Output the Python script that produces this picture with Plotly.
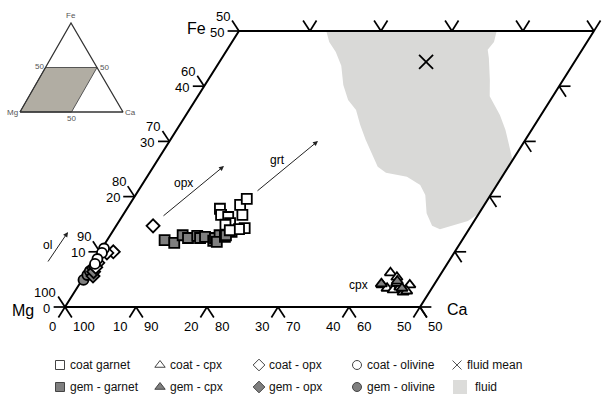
import plotly.graph_objects as go

# ---------------- data (ternary %: Ca, Fe; Mg = 100 - Ca - Fe) ----------------
coat_garnet_ca = [13.1, 13.8, 15.0, 15.8, 15.6, 16.8, 16.0, 18.3, 17.6, 15.3, 16.4]
coat_garnet_fe = [17.8, 16.7, 16.3, 15.2, 18.5, 16.7, 19.6, 14.3, 14.1, 14.9, 13.9]
gem_garnet_ca = [8.1, 9.7, 10.2, 11.2, 12.3, 12.9, 13.5, 15.0, 15.0, 15.4, 15.6, 16.3, 16.8, 16.3]
gem_garnet_fe = [12.1, 11.6, 13.0, 12.5, 12.9, 12.5, 12.7, 12.0, 12.5, 13.0, 11.8, 12.7, 13.6, 13.0]
coat_cpx_ca = [42.8, 44.1, 42.7, 43.7, 44.7, 45.4, 46.3, 46.6, 44.6, 46.7]
coat_cpx_fe = [6.2, 5.4, 4.0, 3.4, 3.1, 3.6, 2.7, 4.0, 4.3, 2.9]
gem_cpx_ca = [42.5, 44.5, 45.8]
gem_cpx_fe = [4.2, 4.7, 3.4]
coat_opx_ca = [1.9, 1.1, 0.7, 0.8, 5.2]
coat_opx_fe = [10.0, 9.8, 8.0, 7.2, 14.7]
gem_opx_ca = [1.2, 0.5, 0.9]
gem_opx_fe = [5.6, 7.1, 6.4]
coat_ol_ca = [0.3, 0.4, 0.3, 0.4]
coat_ol_fe = [10.6, 9.8, 8.7, 7.8]
gem_ol_ca = [0.2, 0.3, 0.3]
gem_ol_fe = [4.9, 5.8, 6.5]
fluid_mean_ca = [29.1]
fluid_mean_fe = [44.4]
fluid_ca = [12.3, 13.7, 15.5, 17.5, 19.5, 21.5, 23.5, 25.4, 27.5, 29.8, 31.6, 33.3, 36.6,
            39.2, 40.8, 42.6, 44.5, 45.9, 49.1, 50.0, 50.0, 48.8, 46.3, 44.2, 42.7, 41.1,
            39.7, 37.6, 36.7, 36.9, 36.3]
fluid_fe = [50.0, 48.0, 46.2, 43.7, 40.2, 37.5, 35.7, 33.0, 30.3, 27.5, 25.4, 24.3, 23.6,
            22.1, 20.3, 17.0, 14.7, 14.1, 15.6, 17.0, 26.6, 28.4, 32.1, 34.8, 36.4, 38.2,
            41.1, 45.1, 46.6, 48.0, 50.0]
tick_values = [0, 10, 20, 30, 40, 50]

# ---------------- projection (ternary -> sheared cartesian) ----------------
K = 0.49
def proj(ca, fe):
    return [c + K * f for c, f in zip(ca, fe)], list(fe)

FONT = "Arial, Liberation Sans, sans-serif"
GRAY = "#7f7f7f"
fig = go.Figure()

# fluid field
fx, fy = proj(fluid_ca, fluid_fe)
fig.add_trace(go.Scatter(x=fx, y=fy, fill="toself", fillcolor="#d9d9d7", mode="lines",
                         line=dict(width=0, color="#d9d9d7"), hoverinfo="skip"))

# frame
ex, ey = proj([0, 50, 50, 0, 0], [0, 0, 50, 50, 0])
fig.add_trace(go.Scatter(x=ex, y=ey, mode="lines", line=dict(color="black", width=2),
                         hoverinfo="skip"))

# ticks
DH, DD = 1.6, 1.9
segs = []
for t in tick_values:
    segs += [((0, t), (-DH, t)), ((0, t), (-DD, t + DD))]          # left edge
    segs += [((t, 0), (t, -DD)), ((t, 0), (t + DD, -DD))]          # bottom edge
    if t > 0:
        segs += [((t, 50), (t - DD, 50 + DD)), ((t, 50), (t, 50 + DD))]  # top edge
    if t < 50:
        segs += [((50, t), (50 + DH, t)), ((50, t), (50 + DD, t - DD))]  # right edge
tx, ty = [], []
for (a, b) in segs:
    xs, ys = proj([a[0], b[0]], [a[1], b[1]])
    tx += xs + [None]
    ty += ys + [None]
fig.add_trace(go.Scatter(x=tx, y=ty, mode="lines", line=dict(color="black", width=1.7),
                         hoverinfo="skip"))

# tick labels
ann = []
def lab(ca, fe, text, xanchor, xs, ys):
    x, y = proj([ca], [fe])
    ann.append(dict(x=x[0], y=y[0], xref="x", yref="y", text=text, showarrow=False,
                    xanchor=xanchor, yanchor="middle", xshift=xs, yshift=ys,
                    font=dict(family=FONT, size=13, color="black")))
for t in tick_values:
    lab(0, t, str(t), "right", -13, -1)
    lab(0, t, str(100 - t), "right", -7, 15)
    lab(t, 0, str(t), "right", -7, -19)
    lab(t, 0, str(100 - t), "left", 6, -19)

# markers
def pts(ca, fe, symbol, fill, size):
    x, y = proj(ca, fe)
    fig.add_trace(go.Scatter(x=x, y=y, mode="markers", hoverinfo="skip",
                             marker=dict(symbol=symbol, size=size, color=fill,
                                         line=dict(color="black", width=1.8))))
pts(gem_garnet_ca, gem_garnet_fe, "square", GRAY, 10)
pts(coat_garnet_ca, coat_garnet_fe, "square", "white", 10)
pts(gem_ol_ca, gem_ol_fe, "circle", GRAY, 10)
pts(gem_opx_ca, gem_opx_fe, "diamond", GRAY, 10)
pts(coat_opx_ca, coat_opx_fe, "diamond", "white", 10)
pts(coat_ol_ca, coat_ol_fe, "circle", "white", 10)
pts(coat_cpx_ca, coat_cpx_fe, "triangle-up", "white", 10)
pts(gem_cpx_ca, gem_cpx_fe, "triangle-up", GRAY, 10)
mx, my = proj(fluid_mean_ca, fluid_mean_fe)
fig.add_trace(go.Scatter(x=mx, y=my, mode="markers", hoverinfo="skip",
                         marker=dict(symbol="x-thin", size=14, line=dict(color="black", width=1.8))))

# ---------------- overlay in pixel units (inset, arrows, legend) ----------------
def pix(x, y, **kw):
    fig.add_trace(go.Scatter(x=x, y=y, xaxis="x2", yaxis="y2", hoverinfo="skip", **kw))

# inset triangle
pix([20, 71.5, 97, 45.5, 20], [112, 112, 67.5, 67.5, 112], mode="lines", fill="toself",
    fillcolor="#b1ada3", line=dict(color="#555555", width=1))
pix([20, 123, 71, 20], [112, 112, 23, 112], mode="lines", line=dict(color="#333333", width=1.3))
for (x, y, t) in [(71, 15, "Fe"), (12, 112, "Mg"), (130, 112, "Ca"), (39, 66, "50"),
                  (104, 67, "50"), (71, 118, "50")]:
    ann.append(dict(x=x, y=y, xref="x2", yref="y2", text=t, showarrow=False,
                    font=dict(family=FONT, size=8, color="#555555")))

# corner labels
for (x, y, t) in [(196, 28, "Fe"), (23, 310, "Mg"), (457, 309, "Ca")]:
    ann.append(dict(x=x, y=y, xref="x2", yref="y2", text=t, showarrow=False,
                    font=dict(family=FONT, size=16, color="black")))

# phase labels and arrows
for (x, y, t) in [(47, 245, "ol"), (183, 183, "opx"), (277, 160, "grt"), (358, 285, "cpx")]:
    ann.append(dict(x=x, y=y, xref="x2", yref="y2", text=t, showarrow=False,
                    font=dict(family=FONT, size=12, color="black")))
for (x0, y0, x1, y1) in [(47, 263, 68, 232), (162, 217, 224, 166), (256, 192, 318, 141)]:
    ann.append(dict(x=x1, y=y1, ax=x0, ay=y0, xref="x2", yref="y2", axref="x2", ayref="y2",
                    text="", showarrow=True, arrowhead=2, arrowsize=1, arrowwidth=1,
                    arrowcolor="#222222"))

# legend
leg_rows = [365, 387]
leg_cols = [60, 160, 259, 357, 457]
leg_items = [
    ("square", "white", "coat garnet"), ("triangle-up", "white", "coat - cpx"),
    ("diamond", "white", "coat - opx"), ("circle", "white", "coat - olivine"),
    ("x-thin", "white", "fluid mean"),
    ("square", GRAY, "gem - garnet"), ("triangle-up", GRAY, "gem - cpx"),
    ("diamond", GRAY, "gem - opx"), ("circle", GRAY, "gem - olivine"),
]
for i, (sym, col, txt) in enumerate(leg_items):
    r, c = divmod(i, 5)
    x, y = leg_cols[c], leg_rows[r]
    if sym == "x-thin":
        pix([x], [y], mode="markers", marker=dict(symbol=sym, size=9, line=dict(color="#555555", width=1)))
    else:
        pix([x], [y], mode="markers", marker=dict(symbol=sym, size=9, color=col,
                                                   line=dict(color="#444444", width=1)))
    ann.append(dict(x=x + 8, y=y, xref="x2", yref="y2", text=txt, showarrow=False,
                    xanchor="left", font=dict(family=FONT, size=12, color="#111111")))
fig.add_shape(type="rect", x0=453, x1=467, y0=380, y1=394, xref="x2", yref="y2",
              fillcolor="#dcdcda", line=dict(width=0))
ann.append(dict(x=473, y=387, xref="x2", yref="y2", text="fluid", showarrow=False,
                xanchor="left", font=dict(family=FONT, size=12, color="#111111")))

fig.update_layout(
    width=603, height=400, autosize=False, showlegend=False,
    margin=dict(l=0, r=0, t=0, b=0, pad=0),
    paper_bgcolor="white", plot_bgcolor="white",
    xaxis=dict(range=[-65 / 7.1, 538 / 7.1], visible=False, fixedrange=True),
    yaxis=dict(range=[-93 / 5.52, 307 / 5.52], visible=False, fixedrange=True),
    xaxis2=dict(range=[0, 603], visible=False, overlaying="x", anchor="y2"),
    yaxis2=dict(range=[400, 0], visible=False, overlaying="y", anchor="x2"),
    annotations=ann,
)
fig.write_html("out.html", config={"displayModeBar": False},
               post_script="document.body.style.margin='0px';document.body.style.padding='0px';")
